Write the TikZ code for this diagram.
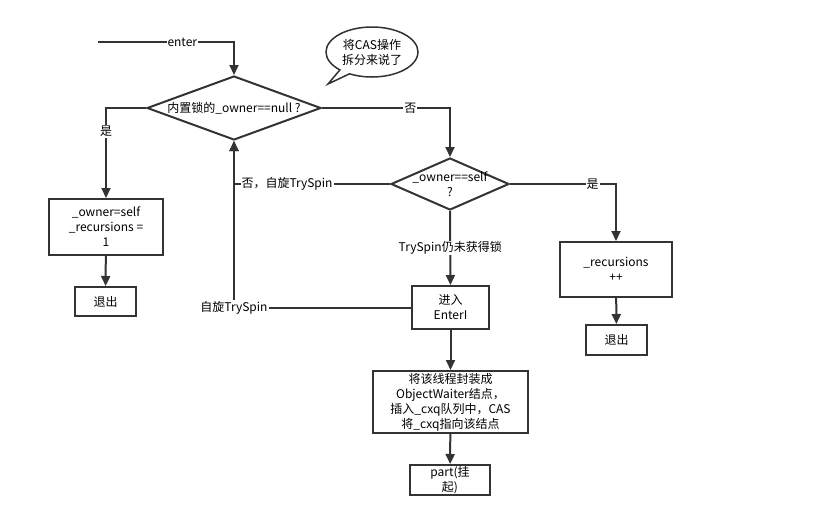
\documentclass[tikz,border=0pt]{standalone}
\usepackage{fontspec}
\setmainfont{Noto Sans CJK SC}
\usetikzlibrary{arrows.meta,shapes.geometric,shapes.callouts}
\definecolor{ink}{HTML}{333333}

\begin{document}
\begin{tikzpicture}[x=1pt,y=-1pt,
    font=\fontsize{12}{15}\selectfont,
    line/.style={draw=ink,line width=2pt,-{Triangle[length=10pt,width=9pt]}},
    box/.style={draw=ink,line width=2pt,align=center,inner sep=0pt},
    dia/.style={diamond,draw=ink,line width=2pt,inner sep=0pt},
    lbl/.style={fill=white,inner sep=1pt}]
   \useasboundingbox (0,0) rectangle (839,531);

   % decisions
   \node[dia,minimum width=174pt,minimum height=64pt] (d1) at (234,108) {};
   \node (t1) at (d1) {内置锁的\_owner==null ?};
   \node[dia,minimum width=118pt,minimum height=52pt] (d2) at (450,184) {};
   \node[align=center] (t2) at (d2) {\_owner==self\\?};

   % left branch
   \node[box,minimum width=114pt,minimum height=56pt] (own) at (106,227) {\_owner=self\\\_recursions =\\1};
   \node[box,minimum width=61pt,minimum height=29pt] (exit1) at (105.5,301.5) {退出};

   % right branch
   \node[box,minimum width=112pt,minimum height=55pt] (rec) at (616,269.5) {\_recursions\\++};
   \node[box,minimum width=61pt,minimum height=30pt] (exit2) at (616.5,340) {退出};

   % middle branch
   \node[box,minimum width=77pt,minimum height=43pt] (enteri) at (450.5,307.5) {进入\\EnterI};
   \node[box,minimum width=155pt,minimum height=62pt] (wrap) at (450.5,402) {将该线程封装成\\ObjectWaiter结点，\\插入\_cxq队列中，CAS\\将\_cxq指向该结点};
   \node[box,minimum width=80pt,minimum height=30pt] (park) at (450,480) {part(挂\\起)};

   % note
   \node[ellipse callout,draw=ink,line width=1.5pt,minimum width=92pt,minimum height=50pt,
         align=center,inner sep=0pt,callout absolute pointer={(328,84)}] (note) at (372,52) {将CAS操作\\拆分来说了};

   \coordinate (start) at (98,42);

   \draw[line] (start) -| node[lbl,pos=0.31] {enter} (d1.north);
   \draw[line] (d1.west) -| node[lbl,pos=0.63] {是} (own.north);
   \draw[line] (own) -- (exit1);
   \draw[line] (d1.east) -| node[lbl,pos=0.345] {否} (d2.north);
   \draw[line] (d2.west) -| node[lbl,pos=0.33] {否，自旋TrySpin} (d1.south);
   \draw[line] (d2.east) -| node[lbl,pos=0.39] {是} (rec.north);
   \draw[line] (rec) -- (exit2);
   \draw[line] (d2.south) -- node[lbl] {TrySpin仍未获得锁} (enteri.north);
   \draw[line] (enteri.west) -| node[lbl,pos=0.5] {自旋TrySpin} (d1.south);
   \draw[line] (enteri) -- (wrap);
   \draw[line] (wrap) -- (park);
\end{tikzpicture}
\end{document}
